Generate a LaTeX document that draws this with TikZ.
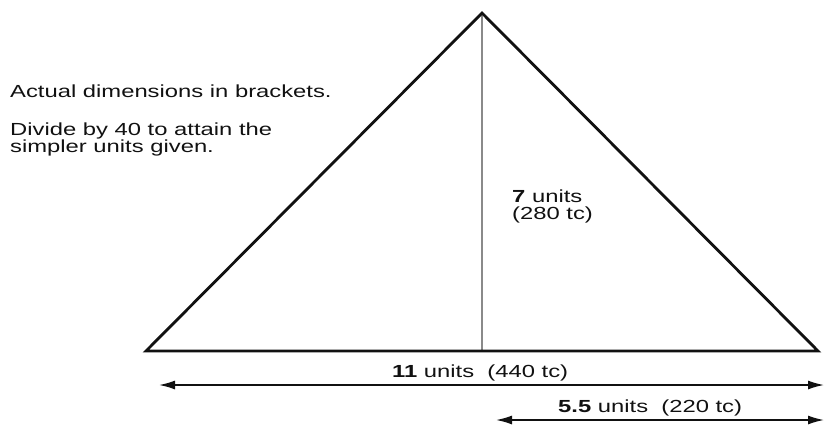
\documentclass[tikz,border=0pt]{standalone}
\usepackage{fontspec}
\setmainfont{Liberation Sans}[FakeStretch=1.36]
\usepackage{tikz}
\usetikzlibrary{
  positioning,
  arrows.meta
}
\definecolor{ink}{HTML}{111111}
\definecolor{axis}{HTML}{8A8A8A}

\begin{document}
\begin{tikzpicture}[
  x=1pt, y=-1pt,
  edge/.style={ink, line width=2.8pt, line join=miter},
  mid/.style={axis, line width=2.4pt},
  dim/.style={{Latex[length=16pt,width=9pt]}-{Latex[length=16pt,width=9pt]}, ink, line width=1.6pt},
  lbl/.style={anchor=base west, inner sep=0pt, align=left, ink,
              font=\fontsize{17.5}{17}\selectfont},
]
  \useasboundingbox (0,0) rectangle (824,424);

  % Triangle corners
  \coordinate (apex) at (482,13);
  \coordinate (bl) at (146,351);
  \coordinate (br) at (818,351);
  \coordinate (foot) at (482,351);

  \draw[mid] (apex) -- (foot);
  \draw[edge] (bl) -- (apex) -- (br) -- cycle;

  % Dimension arrows
  \coordinate (fullL) at (159,385);
  \coordinate (fullR) at (824,385);
  \coordinate (halfL) at (496,420);
  \coordinate (halfR) at (824,420);
  \draw[dim] (fullL) -- (fullR);
  \draw[dim] (halfL) -- (halfR);

  % Notes and labels (base = last line)
  \node[lbl] (note) at (10,97) {Actual dimensions in brackets.};
  \node[lbl] (divide) at (10,152)
    {Divide by 40 to attain the\\simpler units given.};
  \node[lbl] (height) at (512,219) {\textbf{7} units\\(280 tc)};
  \node[lbl] (base) at (392,377) {\textbf{11} units\ \ (440 tc)};
  \node[lbl] (half) at (558,412) {\textbf{5.5} units\ \ (220 tc)};
\end{tikzpicture}
\end{document}
